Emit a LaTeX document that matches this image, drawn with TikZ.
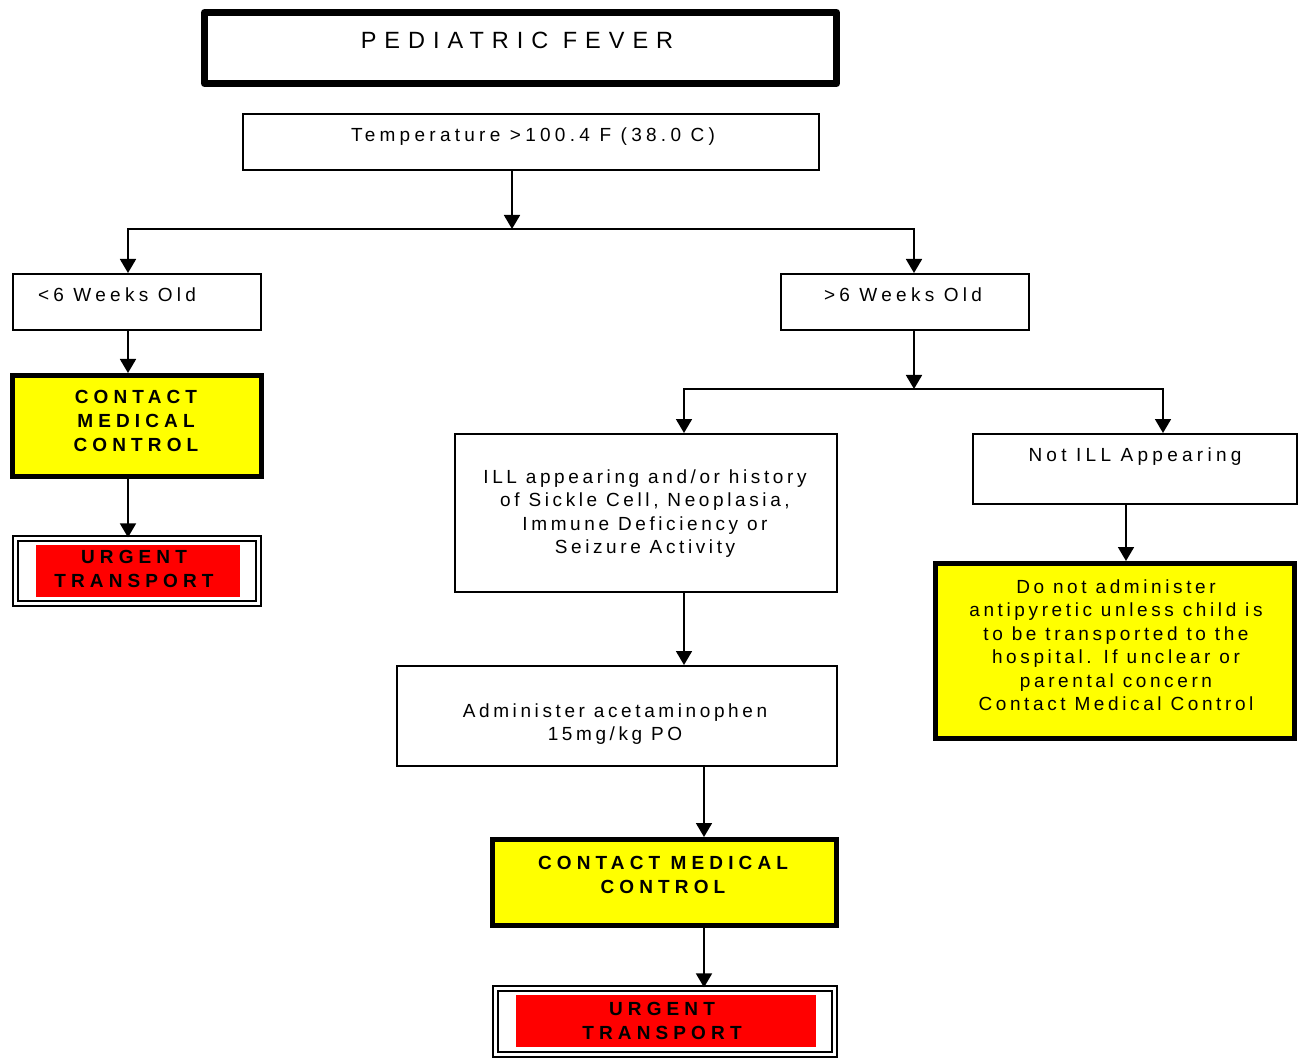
\documentclass[tikz,border=0pt]{standalone}
\usepackage{fontspec}
\usetikzlibrary{arrows.meta}
\setmainfont{Liberation Sans}
\newfontfamily\bodyfont[LetterSpace=19]{Liberation Sans}
\newfontfamily\widefont[LetterSpace=22.5]{Liberation Sans}
\newfontfamily\headfont[LetterSpace=34]{Liberation Sans}
\newfontfamily\alertfont[LetterSpace=27]{Liberation Sans}
\definecolor{alertyellow}{RGB}{255,255,0}
\definecolor{urgentred}{RGB}{255,0,0}
\begin{document}
\begin{tikzpicture}[x=1pt,y=-1pt,
  box/.style={draw, rectangle, line width=2pt, inner sep=0pt, fill=white},
  titlebox/.style={box, line width=7pt, line join=round},
  alertbox/.style={box, line width=5pt, fill=alertyellow},
  urgentframe/.style={draw, rectangle, line width=1.8pt, double=white, double distance=3pt, inner sep=0pt},
  redbar/.style={rectangle, fill=urgentred, inner sep=0pt},
  txt/.style={font=\bodyfont\fontsize{19pt}{23.5pt}\selectfont, align=center, inner sep=0pt},
  widetxt/.style={txt, font=\widefont\fontsize{19pt}{23.5pt}\selectfont},
  ttl/.style={font=\headfont\fontsize{23.5pt}{27pt}\selectfont, align=center, inner sep=0pt},
  alerttxt/.style={font=\alertfont\bfseries\fontsize{19pt}{24pt}\selectfont, align=center, inner sep=0pt},
  arr/.style={line width=1.8pt, -{Triangle[width=16pt,length=14pt]}}
]
\useasboundingbox (0,0) rectangle (1299,1059);

% boxes
\node[titlebox, minimum width=632pt, minimum height=71pt] (title) at (520.5,48) {};
\node[box, minimum width=576pt, minimum height=56pt] (temp) at (531,142) {};
\node[box, minimum width=248pt, minimum height=56pt] (lt6) at (137,302) {};
\node[box, minimum width=248pt, minimum height=56pt] (gt6) at (905,302) {};
\node[alertbox, minimum width=249pt, minimum height=101pt] (cmcL) at (137,426) {};
\node[urgentframe, minimum width=243.4pt, minimum height=65.4pt] (urgL) at (137,571) {};
\node[redbar, minimum width=204pt, minimum height=52pt] (redL) at (138,571) {};
\node[box, minimum width=382pt, minimum height=158pt] (ill) at (646,513) {};
\node[box, minimum width=324pt, minimum height=70pt] (notill) at (1135,469) {};
\node[alertbox, minimum width=359pt, minimum height=175pt] (yelR) at (1115,651) {};
\node[box, minimum width=440pt, minimum height=100pt] (admin) at (617,716) {};
\node[alertbox, minimum width=344pt, minimum height=86pt] (cmcB) at (664.5,882.5) {};
\node[urgentframe, minimum width=339.4pt, minimum height=66.4pt] (urgB) at (665,1021.5) {};
\node[redbar, minimum width=300pt, minimum height=52pt] (redB) at (666,1021) {};

% texts
\node[ttl] (titleT) at (517,40) {PEDIATRIC FEVER};
\node[widetxt] (tempT) at (533,137) {Temperature >100.4 F (38.0 C)};
\node[widetxt] (lt6T) at (117,295) {<6 Weeks Old};
\node[widetxt] (gt6T) at (903,295) {>6 Weeks Old};
\node[alerttxt] (cmcLT) at (136,421) {CONTACT\\MEDICAL\\CONTROL};
\node[alerttxt] (urgLT) at (134,569) {URGENT\\TRANSPORT};
\node[txt] (illT) at (645,513.5) {ILL appearing and/or history\\of Sickle Cell, Neoplasia,\\Immune Deficiency or\\Seizure Activity};
\node[widetxt] (notillT) at (1135,457) {Not ILL Appearing};
\node[txt] (yelRT) at (1116,645) {Do not administer\\antipyretic unless child is\\to be transported to the\\hospital. If unclear or\\parental concern\\Contact Medical Control};
\node[txt] (adminT) at (615,724) {Administer acetaminophen\\15mg/kg PO};
\node[alerttxt] (cmcBT) at (663,875) {CONTACT MEDICAL\\CONTROL};
\node[alerttxt] (urgBT) at (662,1021) {URGENT\\TRANSPORT};

% junctions
\coordinate (j1) at (512,229);
\coordinate (j2) at (914,389);

% connectors
\draw[arr] (temp.south -| j1) -- (j1);
\draw[arr] (j1) -| ([xshift=-9pt]lt6.north);
\draw[arr] (j1) -| ([xshift=9pt]gt6.north);
\draw[arr] ([xshift=-9pt]lt6.south) -- ([xshift=-9pt]cmcL.north);
\draw[arr] ([xshift=-9pt]cmcL.south) -- ([xshift=-9pt]urgL.north);
\draw[arr] ([xshift=9pt]gt6.south) -- (j2);
\draw[arr] (j2) -| ([xshift=38pt]ill.north);
\draw[arr] (j2) -| ([xshift=28pt]notill.north);
\draw[arr] ([xshift=-9pt]notill.south) -- ([xshift=-9pt]notill.south |- yelR.north);
\draw[arr] ([xshift=38pt]ill.south) -- ([xshift=38pt]ill.south |- admin.north);
\draw[arr] ([xshift=87pt]admin.south) -- ([xshift=87pt]admin.south |- cmcB.north);
\draw[arr] ([xshift=39.5pt]cmcB.south) -- ([xshift=39.5pt]cmcB.south |- urgB.north);
\end{tikzpicture}
\end{document}
